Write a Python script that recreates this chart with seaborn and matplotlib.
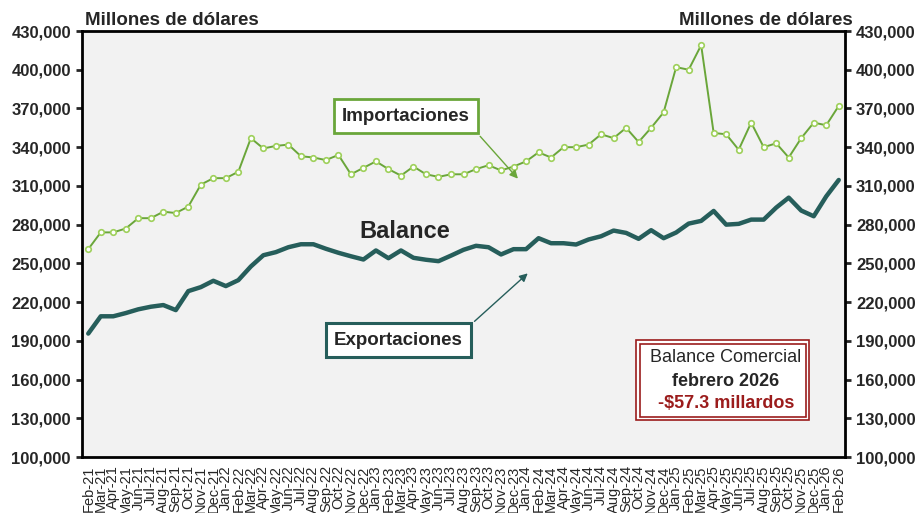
import pandas as pd
import numpy as np
import matplotlib
matplotlib.use("Agg")
import matplotlib.pyplot as plt
import seaborn as sns
from matplotlib.patches import Rectangle

# Datos (millones de dólares)
meses = pd.date_range("2021-02-01", periods=61, freq="MS").strftime("%b-%y").tolist()

importaciones = [261, 274, 274, 277, 285, 285, 290, 289, 294, 311, 316, 316, 321, 347, 339,
                 341, 342, 333, 332, 330, 334, 319, 324, 329, 323, 318, 325, 319, 317, 319,
                 319, 323, 326, 322, 325, 329, 336, 332, 340, 340, 342, 350, 347, 355, 344,
                 355, 367, 402, 400, 419, 351, 350, 338, 359, 340, 343, 332, 347, 359, 357, 372]

exportaciones = [195.6, 209, 209, 211.5, 214.4, 216.4, 217.7, 213.8, 228.5, 231.6, 236.5,
                 232.4, 237, 247.6, 256.3, 258.7, 262.5, 264.8, 264.8, 261.3, 258.2, 255.5,
                 253, 260, 254, 260, 254.3, 252.8, 251.7, 256, 260.5, 263.6, 262.5, 256.9,
                 261, 261, 269.5, 265.6, 265.6, 264.6, 268.5, 271, 275.4, 273.6, 269, 275.7,
                 269.5, 273.9, 280.8, 282.9, 290.6, 280, 280.6, 283.9, 283.9, 293.2, 300.9,
                 290.9, 286.5, 301.9, 314.6]

df = pd.DataFrame({
    "idx": np.arange(len(meses)),
    "imp": np.array(importaciones) * 1000,
    "exp": np.array(exportaciones) * 1000,
})

sns.set_style("white")
plt.rcParams["font.family"] = ["Liberation Sans", "DejaVu Sans"]

W, H = 917, 513
fig = plt.figure(figsize=(W / 100, H / 100), dpi=100)
ax = fig.add_axes([82 / W, 1 - 457 / H, (845 - 82) / W, (457 - 31) / H])
ax.set_facecolor("#F2F2F2")

verde = "#6AA63A"
verde_claro = "#9ED05A"
teal = "#265E5B"
rojo = "#9B1C1C"

sns.lineplot(data=df, x="idx", y="imp", ax=ax, color=verde, lw=1.4, marker="o",
             markersize=4, markerfacecolor="white", markeredgecolor=verde_claro,
             markeredgewidth=1.2)
sns.lineplot(data=df, x="idx", y="exp", ax=ax, color=teal, lw=3.2)

ax.set_xlim(-0.5, len(meses) - 0.5)
ax.set_ylim(100000, 430000)
ax.set_yticks(np.arange(100000, 430001, 30000))
ax.set_yticklabels([f"{v:,}" for v in range(100000, 430001, 30000)],
                   fontsize=12, fontweight="bold")
ax.set_xticks(df["idx"])
ax.set_xticklabels(meses, rotation=90, fontsize=10.5)
ax.set_xlabel("")
ax.set_ylabel("")

ax.tick_params(axis="y", which="both", left=True, right=True, labelleft=True,
               labelright=True, direction="out", length=4, width=2, pad=4)
ax.tick_params(axis="x", direction="out", length=4, width=1.5, pad=2)
for s in ax.spines.values():
    s.set_linewidth(2)
    s.set_color("black")

# Encabezados
fig.text(85 / W, 1 - 25 / H, "Millones de dólares", fontsize=13.5, fontweight="bold",
         ha="left", va="baseline")
fig.text(853 / W, 1 - 25 / H, "Millones de dólares", fontsize=13.5, fontweight="bold",
         ha="right", va="baseline")

# Anotaciones
ax.annotate("Importaciones", xy=(34.5, 314000), xytext=(25.4, 363900),
            fontsize=13.5, fontweight="bold", ha="center", va="center",
            bbox=dict(boxstyle="square,pad=0.45", fc="white", ec=verde, lw=2),
            arrowprops=dict(arrowstyle="-|>", color=verde, lw=1, relpos=(1, 0),
                            mutation_scale=12))
ax.annotate("Exportaciones", xy=(35.3, 243700), xytext=(24.8, 190400),
            fontsize=13.5, fontweight="bold", ha="center", va="center",
            bbox=dict(boxstyle="square,pad=0.45", fc="white", ec=teal, lw=2.2),
            arrowprops=dict(arrowstyle="-|>", color=teal, lw=1, relpos=(1, 1),
                            mutation_scale=12))
ax.text(25.3, 274700, "Balance", fontsize=17, fontweight="bold", ha="center", va="center")

# Recuadro del balance comercial (doble borde)
fig.add_artist(Rectangle((636 / W, 1 - 420 / H), (809 - 636) / W, 80 / H,
                         transform=fig.transFigure, fc="white", ec=rojo, lw=1.2))
fig.add_artist(Rectangle((639.5 / W, 1 - 416.5 / H), (805.5 - 639.5) / W, 73 / H,
                         transform=fig.transFigure, fc="none", ec=rojo, lw=1.2))
fig.text(726 / W, 1 - 358 / H, "Balance Comercial", fontsize=13, ha="center", va="center")
fig.text(726 / W, 1 - 381 / H, "febrero 2026", fontsize=13, fontweight="bold",
         ha="center", va="center")
fig.text(726 / W, 1 - 403 / H, "-$57.3 millardos", fontsize=13, fontweight="bold",
         color=rojo, ha="center", va="center")

fig.savefig("out.png", dpi=100, facecolor="white")
